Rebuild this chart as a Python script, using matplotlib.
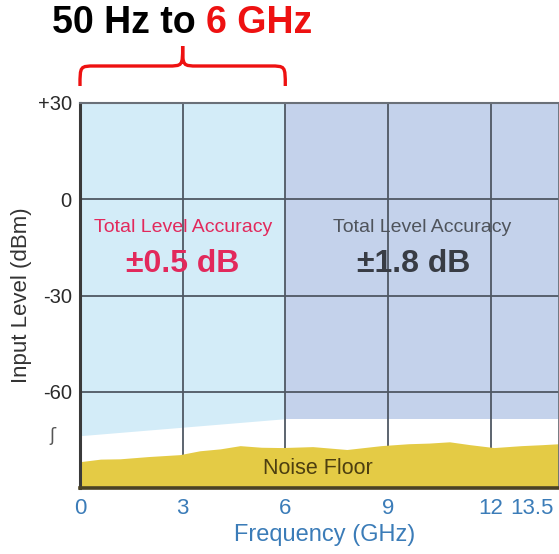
import matplotlib
matplotlib.use("Agg")
import matplotlib.pyplot as plt
from matplotlib.path import Path
from matplotlib.patches import PathPatch
import matplotlib.transforms as mtransforms
import numpy as np

plt.rcParams['font.family'] = ['Liberation Sans', 'DejaVu Sans']

# ---- data ----
x_ticks = [0, 3, 6, 9, 12, 13.5]
x_tick_labels = ["0", "3", "6", "9", "12", "13.5"]
y_ticks = [30, 0, -30, -60]
y_tick_labels = ["+30", "0", "-30", "-60"]

band1_x = [0, 6]            # 50 Hz to 6 GHz region
band1_bottom = [-73.7, -68.4]
band2_x = [6, 14]
band2_bottom = [-68.5, -68.5]

noise_x = [0.0, 0.6, 1.17, 2.0, 2.92, 3.5, 4.1, 4.68, 5.3, 5.9, 6.8, 7.8, 8.8, 9.6, 10.2, 10.8, 11.4, 12.1, 12.9, 13.5, 14.0]
noise_y = [-81.8, -81.0, -80.9, -80.2, -79.6, -78.4, -77.8, -76.8, -77.3, -77.4, -77.1, -78.0, -76.8, -76.2, -76.0, -75.6, -76.5, -77.4, -76.8, -76.5, -76.2]

acc1_label = "Total Level Accuracy"
acc1_value = "\u00b10.5 dB"
acc2_label = "Total Level Accuracy"
acc2_value = "\u00b11.8 dB"

# ---- figure ----
W, H = 559, 554
fig = plt.figure(figsize=(W / 100, H / 100), dpi=100)
ax = fig.add_axes([80 / W, 1 - 488 / H, (559 - 80) / W, (488 - 103) / H])
ax.set_xlim(0, 14)
ax.set_ylim(-90, 30)

blue1 = "#d3ecf8"
blue2 = "#c4d2eb"
yellow = "#e4cb45"

ax.fill_between(band1_x, band1_bottom, [30, 30], color=blue1, lw=0, zorder=0.5)
ax.fill_between(band2_x, band2_bottom, [30, 30], color=blue2, lw=0, zorder=0.5)
ax.fill_between(noise_x, -90, noise_y, color=yellow, lw=0, zorder=2)

for xv in [3, 6, 9, 12]:
    ax.axvline(xv, color="#4f5863", lw=1.3, zorder=1)
for yv in [0, -30, -60]:
    ax.axhline(yv, color="#4f5863", lw=1.3, zorder=1)

ax.set_xticks(x_ticks)
ax.set_xticklabels(x_tick_labels)
ax.set_yticks(y_ticks)
ax.set_yticklabels(y_tick_labels)
ax.tick_params(axis='x', length=0, pad=7, labelsize=16, labelcolor="#3b7cb8")
ax.tick_params(axis='y', length=0, pad=6, labelsize=14.5, labelcolor="#2a2a2a")
# nudge the last (edge) tick label left so it stays inside the picture
last = ax.get_xticklabels()[-1]
last.set_transform(last.get_transform() +
                   mtransforms.ScaledTranslation(-7 / 72, 0, fig.dpi_scale_trans))

ax.spines['left'].set_color("#3a3a3a")
ax.spines['left'].set_linewidth(2.2)
ax.spines['bottom'].set_color("#4a4225")
ax.spines['bottom'].set_linewidth(2.6)
ax.spines['top'].set_color("#6a7078")
ax.spines['top'].set_linewidth(1.5)
ax.spines['right'].set_color("#6a7078")
ax.spines['right'].set_linewidth(1.3)
for s in ax.spines.values():
    s.set_zorder(3)

# axis break squiggle
ax.text(-0.82, -73.7, "\u0283", ha="center", va="center", fontsize=13,
        color="#555555", family=["DejaVu Sans"], clip_on=False)

# labels
fig.text(325 / W, 1 - 535 / H, "Frequency (GHz)", ha="center", va="center",
         fontsize=17, color="#3b7cb8")
fig.text(22 / W, 1 - 295 / H, "Input Level (dBm)", ha="center", va="center",
         rotation=90, fontsize=16, color="#333333")

# region annotations
ax.text(3, -8.7, acc1_label, ha="center", va="center", fontsize=14, color="#e2295c", zorder=4)
ax.text(3, -20.2, acc1_value, ha="center", va="center", fontsize=23, fontweight="bold",
        color="#e2295c", zorder=4)
ax.text(10.0, -8.7, acc2_label, ha="center", va="center", fontsize=14, color="#4f545c", zorder=4)
ax.text(9.75, -20.2, acc2_value, ha="center", va="center", fontsize=23, fontweight="bold",
        color="#383c44", zorder=4)
ax.text(6.96, -84.0, "Noise Floor", ha="center", va="center", fontsize=15.5,
        color="#4d3f10", zorder=4)

# title
t1 = fig.text(52 / W, 1 - 23 / H, "50 Hz to ", ha="left", va="center", fontsize=27,
              fontweight="bold", color="black")
fig.canvas.draw()
ax.annotate("6 GHz", xy=(1, 0.5), xycoords=t1, ha="left", va="center", fontsize=27,
            fontweight="bold", color="#ee1111", annotation_clip=False)

# brace spanning 0..6 GHz (x in data, y in axes fraction)
trans = mtransforms.blended_transform_factory(ax.transData, ax.transAxes)
x0, x1 = band1_x
xm = (x0 + x1) / 2
def yf(py):
    return (488 - py) / (488 - 103)
yb, yh, yt = yf(86), yf(66), yf(46)
dx = 0.45
verts = [
    (x0, yb), (x0, yh), (x0, yh), (x0 + dx, yh),
    (xm - dx, yh),
    (xm, yh), (xm, yh), (xm, yt),
    (xm, yh), (xm, yh), (xm + dx, yh),
    (x1 - dx, yh),
    (x1, yh), (x1, yh), (x1, yb),
]
codes = [Path.MOVETO, Path.CURVE4, Path.CURVE4, Path.CURVE4,
         Path.LINETO,
         Path.CURVE4, Path.CURVE4, Path.CURVE4,
         Path.CURVE4, Path.CURVE4, Path.CURVE4,
         Path.LINETO,
         Path.CURVE4, Path.CURVE4, Path.CURVE4]
brace = PathPatch(Path(verts, codes), transform=trans, fill=False,
                  edgecolor="#ee1111", lw=2.4, clip_on=False, capstyle="butt")
ax.add_patch(brace)

fig.savefig("out.png", dpi=100)
